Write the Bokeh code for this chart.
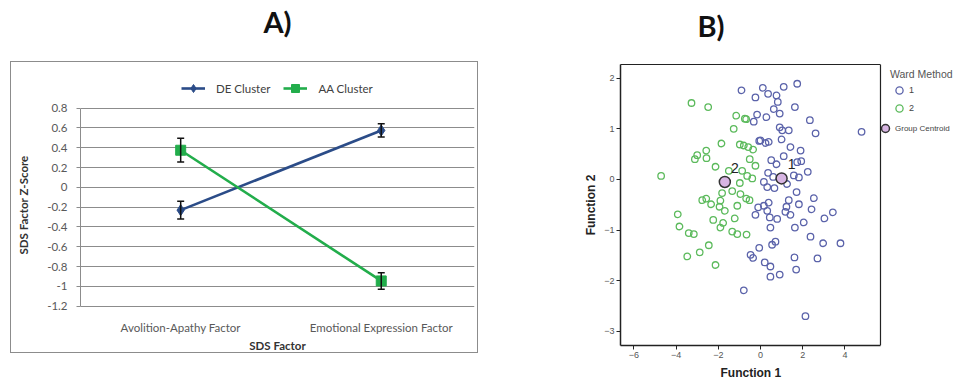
from bokeh.plotting import figure
from bokeh.models import (Range1d, FixedTicker, Legend, LegendItem, ColumnDataSource,
                          Whisker, TeeHead, InlineStyleSheet, LinearAxis, Span, Title)
from bokeh.layouts import row
from bokeh.embed import file_html
from bokeh.resources import INLINE
from bokeh.core.properties import value

# ---------------- Panel A data ----------------
factors = ["Avolition-Apathy Factor", "Emotional Expression Factor"]
de_mean = [-0.23, 0.575]
de_err = [0.09, 0.067]
aa_mean = [0.375, -0.945]
aa_err = [0.12, 0.083]
a_yticks = [-1.2, -1.0, -0.8, -0.6, -0.4, -0.2, 0.0, 0.2, 0.4, 0.6, 0.8]
a_ytick_labels = ["-1.2", "-1", "-0.8", "-0.6", "-0.4", "-0.2", "0", "0.2", "0.4", "0.6", "0.8"]

# ---------------- Panel B data ----------------
g1_x = [-0.90, -0.24, -0.32, -0.16, -0.06, 0.11, 0.36, 1.10, 1.74, 0.76, 0.82, 1.63, 0.63, 0.91,
        0.28, 2.34, 0.91, 1.03, 1.34, 2.61, 4.79, 0.00, 0.24, 0.39, 1.00, 1.42, 1.90, 1.10,
        0.51, 0.76, 1.74, 1.93, 0.36, 0.60, 1.58, 1.82, 2.24, 0.16, 0.32, 0.66, 1.26, 1.71,
        2.53, 1.34, 1.82, 0.39, 0.16, -0.11, 0.32, -0.24, 1.23, 1.18, 1.42, 2.42, 0.44, 0.79,
        2.05, 3.03, 3.43, 1.63, 0.47, 2.37, 2.97, 3.79, 0.71, 0.55, -0.06, -0.47, -0.35, 0.20,
        0.47, 0.47, 0.91, 1.61, 1.69, 2.70, -0.79, 2.13]
g1_y = [1.76, 1.62, 1.14, 1.28, 0.76, 1.81, 1.69, 1.83, 1.89, 1.66, 1.53, 1.43, 1.39, 1.30,
        1.23, 1.17, 1.03, 0.97, 0.97, 0.91, 0.94, 0.77, 0.72, 0.74, 0.79, 0.64, 0.57, 0.46,
        0.38, 0.30, 0.34, 0.36, 0.13, 0.05, 0.08, 0.04, 0.15, -0.05, -0.15, -0.17, -0.09, -0.25,
        -0.37, -0.41, -0.49, -0.46, -0.52, -0.55, -0.62, -0.70, -0.54, -0.64, -0.70, -0.59, -0.75, -0.78,
        -0.85, -0.77, -0.65, -0.95, -0.95, -1.13, -1.26, -1.26, -1.23, -1.29, -1.35, -1.49, -1.55, -1.64,
        -1.72, -1.92, -1.88, -1.54, -1.78, -1.56, -2.19, -2.70]
g2_x = [-3.27, -2.48, -1.15, -0.74, -0.68, -1.27, -1.85, -0.98, -0.79, -0.58, -0.35, -2.57, -3.00,
        -3.11, -2.56, -0.51, -0.24, -4.71, -2.13, -1.50, -0.87, -0.63, -0.39, -0.98, -1.34, -0.95,
        -0.68, -0.52, -1.82, -2.76, -2.57, -2.34, -1.90, -1.94, -1.69, -1.10, -3.92, -1.22, -2.24,
        -1.77, -1.90, -3.84, -3.40, -3.16, -1.34, -1.10, -0.66, -2.45, -2.88, -3.47, -2.13]
g2_y = [1.51, 1.43, 1.26, 1.20, 1.19, 1.00, 0.71, 0.69, 0.67, 0.64, 0.59, 0.57, 0.48,
        0.40, 0.42, 0.40, 0.27, 0.07, 0.25, 0.17, 0.17, 0.07, 0.02, -0.07, -0.23, -0.29,
        -0.38, -0.41, -0.27, -0.41, -0.38, -0.49, -0.42, -0.54, -0.62, -0.52, -0.69, -0.77, -0.80,
        -0.86, -0.95, -0.93, -1.06, -1.08, -1.03, -1.08, -1.09, -1.30, -1.44, -1.52, -1.69]
centroid_x = [1.00, -1.69]
centroid_y = [0.02, -0.05]
centroid_labels = ["1", "2"]
b_xticks = [-6, -4, -2, 0, 2, 4]
b_yticks = [-3, -2, -1, 0, 1, 2]
panel_letters = ["A)", "B)"]

# plot-box extent of panel B (axis units)
B_X0, B_X1 = -6.635, 5.687
B_Y0, B_Y1 = -3.28, 2.27

DE_COLOR = "#2B4C88"
AA_COLOR = "#22AD4B"
XL_FONT = "Lato"
SP_FONT = "Liberation Sans"
H = 382


def top_axis(p, bounds, line_color=None, label=None, label_size="29px", standoff=28,
             label_color="#111111"):
    ax = LinearAxis(ticker=FixedTicker(ticks=[]), major_tick_out=0, major_tick_in=0,
                    major_tick_line_color=None, minor_tick_line_color=None,
                    major_label_standoff=0, axis_line_color=line_color, axis_line_width=1.2,
                    bounds=bounds)
    if label is not None:
        ax.axis_label = label
        ax.axis_label_standoff = standoff
        ax.axis_label_text_font = XL_FONT
        ax.axis_label_text_font_size = label_size
        ax.axis_label_text_font_style = "bold"
        ax.axis_label_text_color = label_color
    p.add_layout(ax, "above")


# ================= Panel A =================
pA = figure(width=490, height=H, output_backend="svg", toolbar_location=None,
            x_range=Range1d(-0.4995, 1.465), y_range=Range1d(-1.5974, 1.2411),
            min_border_left=80, min_border_right=16, min_border_top=63, min_border_bottom=37)
pA.outline_line_color = None
pA.xgrid.visible = False
pA.ygrid.ticker = FixedTicker(ticks=a_yticks)
pA.ygrid.grid_line_color = "#8c8c8c"
pA.ygrid.grid_line_width = 1

axAx = pA.below[0]
axAy = pA.left[0]
idx = list(range(len(factors)))
axAx.ticker = FixedTicker(ticks=idx)
axAx.major_label_overrides = {i: f for i, f in zip(idx, factors)}
axAx.major_tick_line_color = None
axAx.major_tick_out = 0
axAx.major_tick_in = 0
axAx.minor_tick_line_color = None
axAx.axis_line_color = None
axAx.major_label_standoff = -25
axAx.axis_label = "SDS Factor"
axAx.axis_label_standoff = 2

axAy.ticker = FixedTicker(ticks=a_yticks)
axAy.bounds = (-1.2, 0.8)
axAy.major_label_overrides = {t: l for t, l in zip(a_yticks, a_ytick_labels)}
axAy.axis_line_color = "#8c8c8c"
axAy.major_tick_line_color = "#8c8c8c"
axAy.major_tick_out = 4
axAy.major_tick_in = 0
axAy.minor_tick_line_color = None
axAy.major_label_standoff = 9
axAy.axis_label = "SDS Factor Z-Score"
axAy.axis_label_standoff = 14

for ax in (axAx, axAy):
    ax.major_label_text_font = XL_FONT
    ax.major_label_text_font_size = "11.5px"
    ax.major_label_text_color = "#595959"
    ax.axis_label_text_font = XL_FONT
    ax.axis_label_text_font_size = "11.5px"
    ax.axis_label_text_font_style = "bold"
    ax.axis_label_text_color = "#333333"
# panel letter over the chart area
top_axis(pA, bounds=(-0.4995, 1.395), label=panel_letters[0], standoff=26)

de_src = ColumnDataSource(dict(x=idx, y=de_mean,
                               lo=[m - e for m, e in zip(de_mean, de_err)],
                               hi=[m + e for m, e in zip(de_mean, de_err)]))
aa_src = ColumnDataSource(dict(x=idx, y=aa_mean,
                               lo=[m - e for m, e in zip(aa_mean, aa_err)],
                               hi=[m + e for m, e in zip(aa_mean, aa_err)]))

de_line = pA.line("x", "y", source=de_src, line_color=DE_COLOR, line_width=2.6)
aa_line = pA.line("x", "y", source=aa_src, line_color=AA_COLOR, line_width=2.6)
de_mk = pA.scatter("x", "y", source=de_src, marker="diamond", size=11,
                   fill_color=DE_COLOR, line_color=DE_COLOR)
aa_mk = pA.scatter("x", "y", source=aa_src, marker="square", size=10,
                   fill_color=AA_COLOR, line_color=AA_COLOR)
for src in (de_src, aa_src):
    w = Whisker(base="x", lower="lo", upper="hi", source=src, line_color="#111111",
                line_width=1.5, level="overlay",
                upper_head=TeeHead(size=7, line_color="#111111", line_width=1.5),
                lower_head=TeeHead(size=7, line_color="#111111", line_width=1.5))
    pA.add_layout(w)

legA = Legend(items=[LegendItem(label="DE Cluster", renderers=[de_line, de_mk]),
                     LegendItem(label="AA Cluster", renderers=[aa_line, aa_mk])],
              orientation="horizontal", location=(101, 247),
              glyph_width=24, glyph_height=20, label_standoff=11, spacing=13,
              padding=0, margin=0, border_line_color=None, background_fill_alpha=0,
              label_text_font=XL_FONT, label_text_font_size="11.5px",
              label_text_color="#404040")
pA.add_layout(legA)

# Excel-style outer chart-area border
pA.stylesheets = [InlineStyleSheet(css=(
    ":host::after{content:'';position:absolute;left:10px;top:61px;width:468px;height:292px;"
    "box-sizing:border-box;border:1px solid #8c8c8c;pointer-events:none;}"))]

# ================= Panel B =================
pB = figure(width=473, height=H, output_backend="svg", toolbar_location=None,
            x_range=Range1d(B_X0, 9.621), y_range=Range1d(B_Y0, B_Y1),
            min_border_left=130, min_border_right=0, min_border_top=63, min_border_bottom=37)
pB.grid.visible = False
pB.outline_line_color = None
pB.add_layout(Span(location=B_X1, dimension="height", line_color="#222222", line_width=1.2))
axBx = pB.below[0]
axBy = pB.left[0]
axBx.ticker = FixedTicker(ticks=b_xticks)
axBx.bounds = (B_X0, B_X1)
axBy.ticker = FixedTicker(ticks=b_yticks)
axBy.axis_label = "Function 2"
for ax in (axBx, axBy):
    ax.axis_line_color = "#222222"
    ax.axis_line_width = 1.5
    ax.major_tick_line_color = "#222222"
    ax.major_tick_out = 4
    ax.major_tick_in = 0
    ax.minor_tick_line_color = None
    ax.major_label_text_font = SP_FONT
    ax.major_label_text_font_size = "9px"
    ax.major_label_text_color = "#555555"
    ax.major_label_standoff = 2
    ax.axis_label_text_font = SP_FONT
    ax.axis_label_text_font_size = "12px"
    ax.axis_label_text_font_style = "bold"
    ax.axis_label_text_color = "#222222"
axBy.axis_label_standoff = 3
# x-axis title, centred under the plot box
pB.add_layout(Title(text="Function 1", align="left", offset=100, standoff=6,
                    text_font=SP_FONT, text_font_size="12px", text_font_style="bold",
                    text_color="#222222"), "below")
# top edge of the plot box (blank label only reserves room above it)
top_axis(pB, bounds=(B_X0, B_X1), line_color="#222222", label=" ", label_size="8px",
         standoff=4, label_color="#ffffff")
pB.add_layout(Title(text=panel_letters[1], align="left", offset=77, standoff=10,
                    text_font=XL_FONT, text_font_size="29px", text_font_style="bold",
                    text_color="#111111"), "above")

G1_COLOR = "#5B63AA"
G2_COLOR = "#5CBA5C"
r1 = pB.scatter(g1_x, g1_y, marker="circle", size=6.5, fill_color=None,
                line_color=G1_COLOR, line_width=1.3)
r2 = pB.scatter(g2_x, g2_y, marker="circle", size=6.5, fill_color=None,
                line_color=G2_COLOR, line_width=1.3)
rc = pB.scatter(centroid_x, centroid_y, marker="circle", size=11, fill_color="#D7B5E2",
                line_color="#333333", line_width=1.5)
pB.text(centroid_x, centroid_y, text=centroid_labels, x_offset=10, y_offset=-14,
        text_font=value(SP_FONT), text_font_size="14px", text_align="center",
        text_baseline="middle", text_color="#222222")

legB1 = Legend(items=[LegendItem(label="1", renderers=[r1]),
                      LegendItem(label="2", renderers=[r2])],
               title="Ward Method", location=(270, 228),
               glyph_width=18, glyph_height=18, label_height=10, spacing=-4,
               label_standoff=1, padding=0, margin=0, border_line_color=None,
               background_fill_alpha=0, label_text_font=SP_FONT, label_text_font_size="9px",
               label_text_color="#444444", title_text_font=SP_FONT,
               title_text_font_size="10.5px", title_text_font_style="normal",
               title_text_color="#555555", title_standoff=1)
legB2 = Legend(items=[LegendItem(label="Group Centroid", renderers=[rc])],
               location=(255, 207), glyph_width=20, glyph_height=20, label_standoff=0,
               padding=0, margin=0, border_line_color=None, background_fill_alpha=0,
               label_text_font=SP_FONT, label_text_font_size="8px",
               label_text_color="#444444")
pB.add_layout(legB1)
pB.add_layout(legB2)

layout = row(pA, pB)
open("out.html", "w").write(file_html(layout, INLINE))
